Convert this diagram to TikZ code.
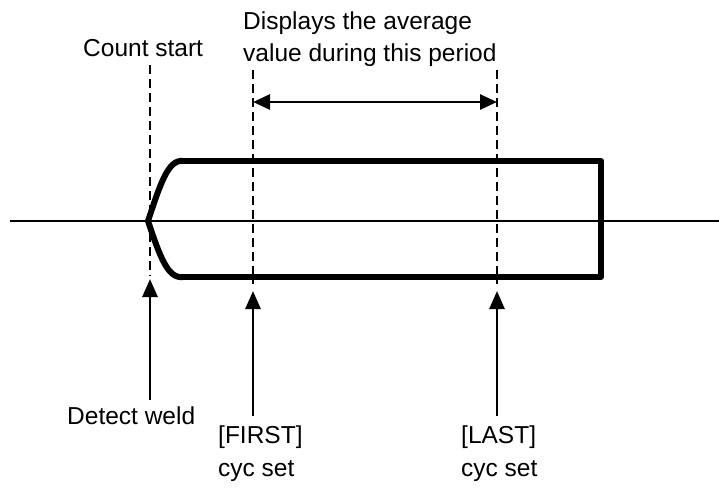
\documentclass[tikz,border=0pt]{standalone}
\usepackage{fontspec}
\setmainfont{Liberation Sans}
\usetikzlibrary{arrows.meta}
\begin{document}
\begin{tikzpicture}[x=1pt,y=-1pt,
  lbl/.style={inner sep=0pt,font=\fontsize{24.5}{28}\selectfont},
  guide/.style={line width=2.8pt,dash pattern=on 9pt off 5pt},
  uparrow/.style={line width=2.8pt,-{Triangle[length=18pt,width=15pt]}},
  span/.style={line width=2.8pt,{Triangle[length=17pt,width=15pt]}-{Triangle[length=17pt,width=15pt]}},
  body/.style={line width=6pt,line join=round,line cap=round}]
\useasboundingbox (0,0) rectangle (719,488);
% axis
\coordinate (axL) at (10,221);
\coordinate (axR) at (719,221);
\draw[line width=2pt] (axL) -- (axR);
% weld body
\draw[body] (183,161) -- (601,161) -- (601,277) -- (183,277);
\draw[body] (183,161) .. controls (168,159) and (160,185) .. (148,221)
  .. controls (160,257) and (168,279) .. (183,277);
% guide lines
\coordinate (cs0) at (150,65);
\coordinate (cs1) at (150,276);
\coordinate (f0) at (253,70);
\coordinate (f1) at (253,284);
\coordinate (l0) at (497,70);
\coordinate (l1) at (497,284);
\draw[guide] (cs0) -- (cs1);
\draw[guide] (f0) -- (f1);
\draw[guide] (l0) -- (l1);
% arrows
\coordinate (dwB) at (150,400);
\coordinate (dwT) at (150,279);
\coordinate (fB) at (253,416);
\coordinate (fT) at (253,291);
\coordinate (lB) at (497,416);
\coordinate (lT) at (497,291);
\draw[uparrow] (dwB) -- (dwT);
\draw[uparrow] (fB) -- (fT);
\draw[uparrow] (lB) -- (lT);
\coordinate (sL) at (253,102);
\coordinate (sR) at (497,102);
\draw[span] (sL) -- (sR);
% labels
\node[lbl,anchor=base west] (cstart) at (83,56) {Count start};
\node[lbl,anchor=base west] (disp1) at (243,29) {Displays the average};
\node[lbl,anchor=base west] (disp2) at (243,61) {value during this period};
\node[lbl,anchor=base west] (detect) at (67,424) {Detect weld};
\node[lbl,anchor=base west] (first) at (218,443) {[FIRST]};
\node[lbl,anchor=base west] (fcyc) at (218,476) {cyc set};
\node[lbl,anchor=base west] (last) at (461,443) {[LAST]};
\node[lbl,anchor=base west] (lcyc) at (461,476) {cyc set};
\end{tikzpicture}
\end{document}
